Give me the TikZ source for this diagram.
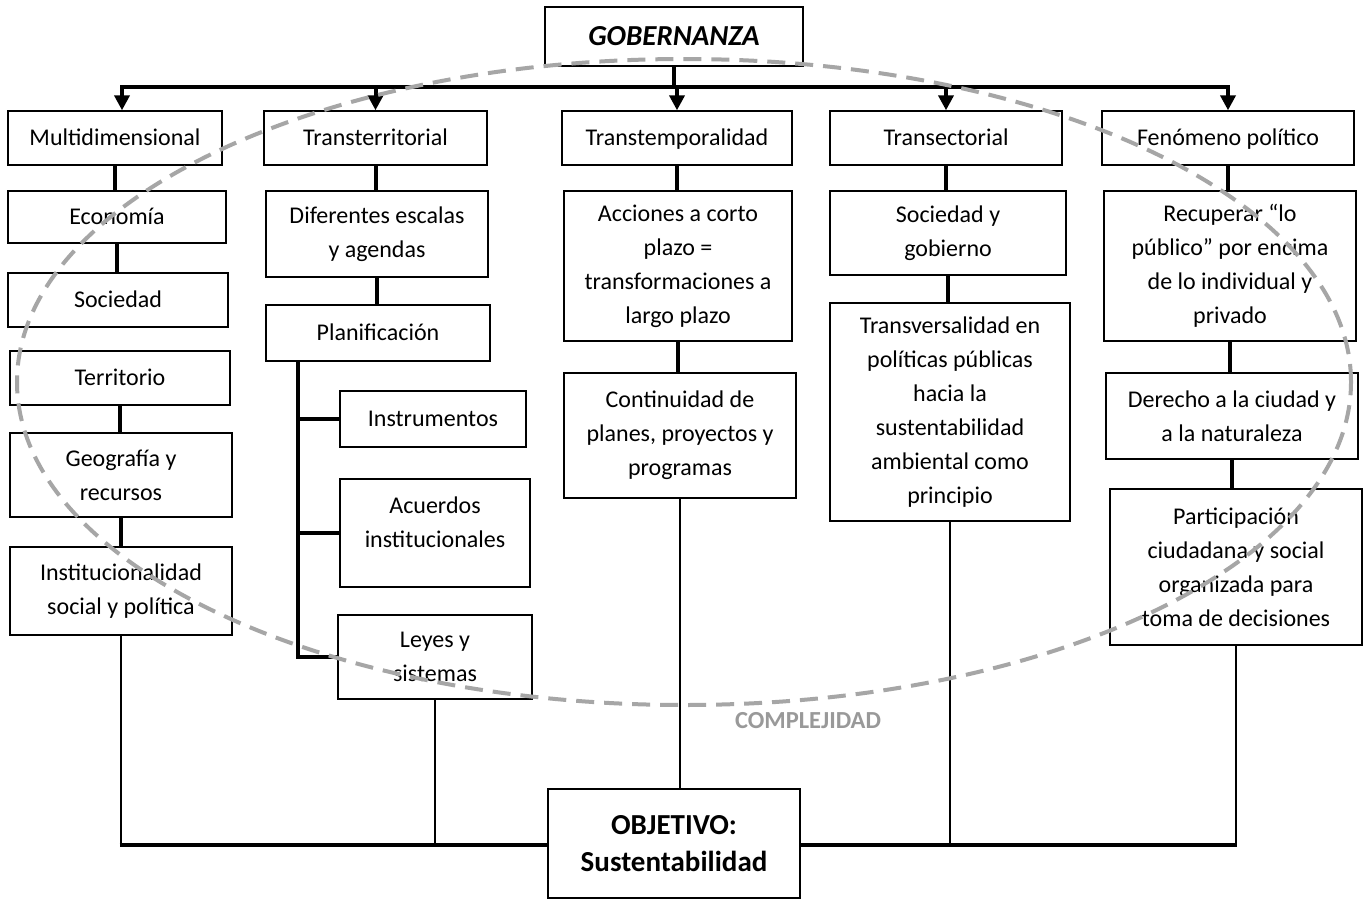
\documentclass[tikz,border=0pt]{standalone}
\usepackage{fontspec}
\setmainfont{Carlito}
\usetikzlibrary{arrows.meta}
\definecolor{dashgray}{HTML}{A6A6A6}
\definecolor{txtgray}{HTML}{999999}
\begin{document}
\begin{tikzpicture}[x=1pt,y=-1pt,
  box/.style={draw=black, line width=1.4pt, fill=white, align=center, inner sep=0pt,
    font=\fontsize{24}{34}\selectfont},
  one/.style={text height=17pt, text depth=3pt},
  conn/.style={line width=4pt},
  thinconn/.style={line width=2.6pt},
  arr/.style={line width=4pt, -{Triangle[length=15pt,width=15pt]}},
  cplx/.style={draw=dashgray, line width=4pt, dash pattern=on 18pt off 10pt}
]
\useasboundingbox (0,0) rectangle (1367,900);
\fill[white] (0,0) rectangle (1367,900);

% top
\node[box, minimum width=258pt, minimum height=59pt, font=\fontsize{29}{34}\selectfont\bfseries\itshape] (gob) at (674,36.5) {GOBERNANZA};

% row 1
\node[box, one, minimum width=214pt, minimum height=54pt] (md) at (115,138) {Multidimensional};
\node[box, one, minimum width=223pt, minimum height=54pt] (tra) at (375.5,138) {Transterritorial};
\node[box, one, minimum width=230pt, minimum height=54pt] (tem) at (677,138) {Transtemporalidad};
\node[box, one, minimum width=232pt, minimum height=54pt] (sec) at (946,138) {Transectorial};
\node[box, one, minimum width=252pt, minimum height=54pt] (fen) at (1228,138) {Fenómeno político};

% column 1
\node[box, one, minimum width=218pt, minimum height=52pt] (eco) at (117,217) {Economía};
\node[box, one, minimum width=220pt, minimum height=54pt] (soc) at (118,300) {Sociedad};
\node[box, one, minimum width=220pt, minimum height=54pt] (terr) at (120,378) {Territorio};
\node[box, minimum width=222pt, minimum height=84pt] (geo) at (121,475) {Geografía y\\recursos};
\node[box, minimum width=222pt, minimum height=88pt] (inst) at (121,591) {Institucionalidad\\social y política};

% column 2
\node[box, minimum width=222pt, minimum height=86pt] (dif) at (377,234) {Diferentes escalas\\y agendas};
\node[box, one, minimum width=224pt, minimum height=56pt] (pla) at (378,333) {Planificación};
\node[box, one, minimum width=186pt, minimum height=56pt] (instr) at (433,419) {Instrumentos};
\node[box, minimum width=190pt, minimum height=108pt] (acu) at (435,533) {};
\node[align=center, inner sep=0pt, font=\fontsize{24}{34}\selectfont] (acutxt) at (435,522) {Acuerdos\\institucionales};
\node[box, minimum width=194pt, minimum height=84pt] (ley) at (435,657) {Leyes y\\sistemas};

% column 3
\node[box, minimum width=228pt, minimum height=150pt] (acc) at (678,266) {Acciones a corto\\plazo =\\transformaciones a\\largo plazo};
\node[box, minimum width=232pt, minimum height=125pt] (con) at (680,435.5) {Continuidad de\\planes, proyectos y\\programas};
\node[box, minimum width=252pt, minimum height=109pt, font=\fontsize{29}{37}\selectfont\bfseries] (obj) at (674,843.5) {OBJETIVO:\\Sustentabilidad};

% column 4
\node[box, minimum width=236pt, minimum height=84pt] (sgo) at (948,233) {Sociedad y\\gobierno};
\node[box, minimum width=240pt, minimum height=218pt] (trv) at (950,412) {Transversalidad en\\políticas públicas\\hacia la\\sustentabilidad\\ambiental como\\principio};

% column 5
\node[box, minimum width=252pt, minimum height=150pt] (rec) at (1230,266) {Recuperar “lo\\público” por encima\\de lo individual y\\privado};
\node[box, minimum width=252pt, minimum height=86pt] (der) at (1232,416) {Derecho a la ciudad y\\a la naturaleza};
\node[box, minimum width=252pt, minimum height=156pt] (par) at (1236,567) {Participación\\ciudadana y social\\organizada para\\toma de decisiones};

% coordinates
\coordinate (bar) at (0,87);
\coordinate (bus) at (298,0);
\coordinate (base) at (0,845);

% top bar and arrows
\draw[conn] (gob.south) -- (gob.south |- bar);
\draw[conn] ([xshift=5pt]md.north |- bar) -- ([xshift=2pt]fen.north |- bar);
\draw[arr] ([xshift=7pt]md.north |- bar) -- ([xshift=7pt]md.north);
\draw[arr] (tra.north |- bar) -- (tra.north);
\draw[arr] (tem.north |- bar) -- (tem.north);
\draw[arr] (sec.north |- bar) -- (sec.north);
\draw[arr] (fen.north |- bar) -- (fen.north);

% column connectors
\draw[conn] (md.south) -- (md.south |- eco.north);
\draw[conn] (eco.south) -- (eco.south |- soc.north);
\draw[conn] (terr.south) -- (terr.south |- geo.north);
\draw[conn] (geo.south) -- (geo.south |- inst.north);

\draw[conn] (tra.south) -- (tra.south |- dif.north);
\draw[conn] (dif.south) -- (dif.south |- pla.north);
\draw[conn] (bus |- pla.south) -- (bus |- ley.west) -- (ley.west);
\draw[conn] (bus |- instr.west) -- (instr.west);
\draw[conn] (bus |- acu.west) -- (acu.west);

\draw[conn] (tem.south) -- (tem.south |- acc.north);
\draw[conn] (acc.south) -- (acc.south |- con.north);

\draw[conn] (sec.south) -- (sec.south |- sgo.north);
\draw[conn] (sgo.south) -- (sgo.south |- trv.north);

\draw[conn] (fen.south) -- (fen.south |- rec.north);
\draw[conn] (rec.south) -- (rec.south |- der.north);
\draw[conn] (der.south) -- (der.south |- par.north);

% bottom connectors
\draw[thinconn] (inst.south) -- (inst.south |- base);
\draw[thinconn] (ley.south) -- (ley.south |- base);
\draw[thinconn] (con.south) -- (con.south |- obj.north);
\draw[thinconn] (trv.south) -- (trv.south |- base);
\draw[thinconn] (par.south) -- (par.south |- base);
\draw[conn] ([xshift=-1.3pt]inst.south |- base) -- (obj.west |- base);
\draw[conn] (obj.east |- base) -- ([xshift=1.3pt]par.south |- base);

% complexity ellipse
\draw[cplx] (684,382) ellipse [x radius=667pt, y radius=323pt];
\node[text=txtgray, font=\fontsize{24.5}{28}\selectfont\bfseries] (cx) at (808,721) {COMPLEJIDAD};
\end{tikzpicture}
\end{document}
